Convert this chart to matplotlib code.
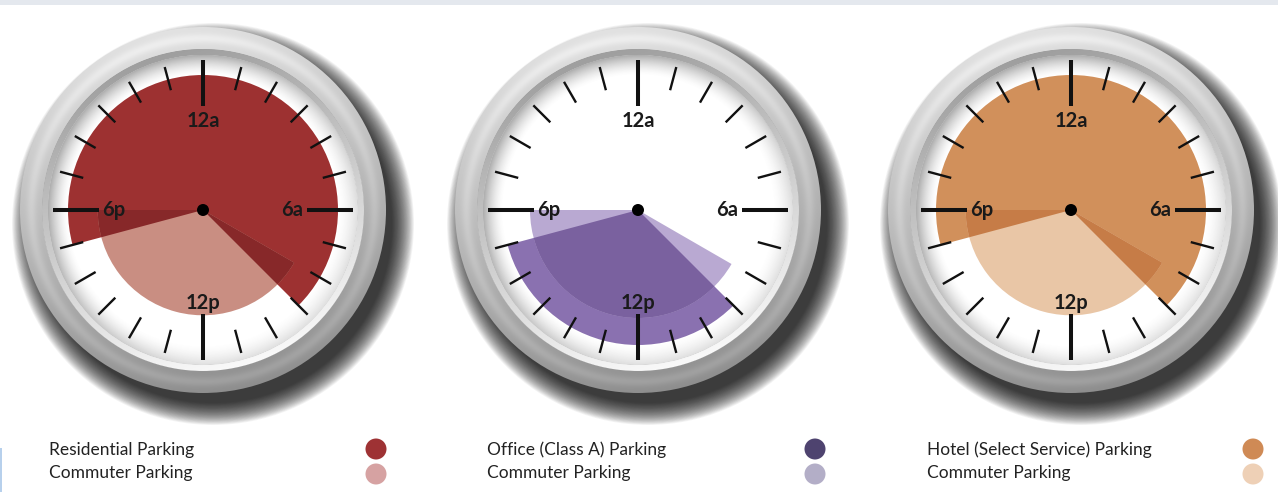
import numpy as np
import matplotlib
matplotlib.use("Agg")
import matplotlib.pyplot as plt
from matplotlib.patches import Wedge, Circle, Annulus, Rectangle

plt.rcParams['font.family'] = ['Lato', 'DejaVu Sans']

W, H = 1278, 501

# --- data ---------------------------------------------------------------
# 24h clock, hour 0 = 12a at the top, hours run clockwise
clock_names = ["Residential Parking", "Office (Class A) Parking",
               "Hotel (Select Service) Parking"]
commuter_name = "Commuter Parking"
main_start = [17, 9, 17]      # first occupied hour
main_end = [9, 17, 9]         # hour where occupancy ends
main_level = [1.0, 1.0, 1.0]  # share of the dial radius
commuter_start = [8, 8, 8]
commuter_end = [18, 18, 18]
commuter_level = [0.78, 0.80, 0.78]
hour_labels = {0: "12a", 6: "6a", 12: "12p", 18: "6p"}

main_colors = ["#9d3131", "#8a71b0", "#d1905b"]
commuter_colors = ["#c98e82", "#b9a9d2", "#e9c6a6"]
overlap_colors = ["#872829", "#7a619f", "#c67c47"]
legend_main = ["#9e3234", "#4e436f", "#cf8a55"]
legend_commuter = ["#d6a2a2", "#b3aec7", "#eed0b6"]

# --- layout (pixels) ------------------------------------------------------
centers_x = [203, 638, 1071]
center_y = 210
R_BEZEL = 183
R_BEVEL = 161
R_FACE = 155
R_WEDGE = 135
legend_text_x = [49, 487, 927]
legend_dot_x = [376, 815, 1253]
legend_y = [450, 473]


def Y(yp):
    return H - yp


def hour_angle(h):
    return 90 - 15 * h


def span(start, end):
    n = (end - start) % 24
    return [(start + i) % 24 for i in range(n)]


def runs(hours):
    hs = set(hours)
    out = []
    for h in sorted(hs):
        if (h - 1) % 24 in hs:
            continue
        n = 1
        while (h + n) % 24 in hs:
            n += 1
        out.append((h, n))
    return out


def wedge(ax, cx, cy, s, n, r, color, z):
    w = Wedge((cx, cy), r, hour_angle(s + n), hour_angle(s),
              facecolor=color, edgecolor='none', zorder=z)
    ax.add_patch(w)


def shaded_image(ax, cx, cy, R, func, clip, z):
    n = 2 * int(R) + 2
    xs = np.linspace(-R, R, n)
    xx, yy = np.meshgrid(xs, xs)
    rgba = func(xx, yy)
    im = ax.imshow(rgba, extent=[cx - R, cx + R, cy - R, cy + R],
                   origin='lower', zorder=z, interpolation='bilinear')
    clip.set_transform(ax.transData)
    im.set_clip_path(clip)


def bezel_rgba(xx, yy):
    t = yy / R_BEZEL - 0.2 * xx / R_BEZEL
    v = 0.72 + 0.16 * t
    d = np.hypot(xx, yy)
    v += 0.06 * np.exp(-((d - 172) / 5.0) ** 2)
    v = np.clip(v, 0, 1)
    return np.dstack([v, v, v, np.ones_like(v)])


def bevel_rgba(xx, yy):
    t = yy / R_BEVEL - 0.3 * xx / R_BEVEL
    v = np.clip(0.80 - 0.17 * t, 0, 1)
    return np.dstack([v, v, v, np.ones_like(v)])


def face_shadow_rgba(xx, yy):
    d = np.hypot(xx, yy) + 1e-9
    edge = np.clip(1 - (R_FACE - d) / 20.0, 0, 1) ** 1.6
    direc = np.clip((-xx + yy) / d * 0.5 + 0.5, 0, 1)
    a = edge * (0.22 + 0.35 * direc)
    g = np.full_like(a, 0.45)
    return np.dstack([g, g, g, a])


fig = plt.figure(figsize=(W / 100, H / 100), dpi=100)
ax = fig.add_axes([0, 0, 1, 1])
ax.set_xlim(0, W)
ax.set_ylim(0, H)
ax.axis('off')

# strip at the top edge of the page
ax.add_patch(Rectangle((0, Y(5)), W, 5, facecolor='#e4e8ee',
                       edgecolor='none', zorder=0))
ax.add_patch(Rectangle((0, Y(492)), 2, 44, facecolor='#b7d0ec',
                       edgecolor='none', zorder=0))

for i, cxp in enumerate(centers_x):
    cx, cy = cxp, Y(center_y)

    # soft drop shadow, bottom right
    for r in np.linspace(201, R_BEZEL - 4, 30):
        ax.add_patch(Circle((cx + 10, cy - 14), r, facecolor='black',
                            edgecolor='none', alpha=0.045, zorder=1))

    shaded_image(ax, cx, cy, R_BEZEL, bezel_rgba,
                 Annulus((cx, cy), R_BEZEL, R_BEZEL - R_BEVEL + 0.5), 2)
    shaded_image(ax, cx, cy, R_BEVEL, bevel_rgba,
                 Annulus((cx, cy), R_BEVEL, R_BEVEL - R_FACE + 0.5), 3)
    ax.add_patch(Circle((cx, cy), R_FACE, facecolor='white',
                        edgecolor='none', zorder=4))
    shaded_image(ax, cx, cy, R_FACE, face_shadow_rgba,
                 Circle((cx, cy), R_FACE), 5)

    # occupancy wedges
    main_hours = span(main_start[i], main_end[i])
    comm_hours = span(commuter_start[i], commuter_end[i])
    for s, n in runs(main_hours):
        wedge(ax, cx, cy, s, n, R_WEDGE * main_level[i], main_colors[i], 6)
    for s, n in runs(comm_hours):
        wedge(ax, cx, cy, s, n, R_WEDGE * commuter_level[i],
              commuter_colors[i], 7)
    both = [h for h in comm_hours if h in main_hours]
    r_both = R_WEDGE * min(main_level[i], commuter_level[i])
    for s, n in runs(both):
        wedge(ax, cx, cy, s, n, r_both, overlap_colors[i], 8)

    # hour ticks
    for h in range(24):
        a = np.radians(hour_angle(h))
        major = h % 6 == 0
        r0, r1 = (104, 150) if major else (124, 148)
        ax.plot([cx + r0 * np.cos(a), cx + r1 * np.cos(a)],
                [cy + r0 * np.sin(a), cy + r1 * np.sin(a)],
                color='#111111', lw=2.9 if major else 1.7,
                solid_capstyle='butt', zorder=9)

    for h, lab in hour_labels.items():
        a = np.radians(hour_angle(h))
        rl = 93 if h == 12 else 89
        ax.text(cx + rl * np.cos(a), cy + rl * np.sin(a), lab,
                ha='center', va='center', fontsize=14.5, fontweight='bold',
                color='#1a1a1a', zorder=10)

    ax.add_patch(Circle((cx, cy), 6, facecolor='black', edgecolor='none',
                        zorder=11))

    # legend
    ax.text(legend_text_x[i], Y(legend_y[0]), clock_names[i], ha='left',
            va='center', fontsize=12.5, color='#222222')
    ax.text(legend_text_x[i], Y(legend_y[1]), commuter_name, ha='left',
            va='center', fontsize=12.5, color='#222222')
    ax.add_patch(Circle((legend_dot_x[i], Y(legend_y[0] - 1)), 10.5,
                        facecolor=legend_main[i], edgecolor='none'))
    ax.add_patch(Circle((legend_dot_x[i], Y(legend_y[1] + 1)), 10.5,
                        facecolor=legend_commuter[i], edgecolor='none'))

ax.set_xlim(0, W)
ax.set_ylim(0, H)
fig.savefig("out.png", dpi=100)
